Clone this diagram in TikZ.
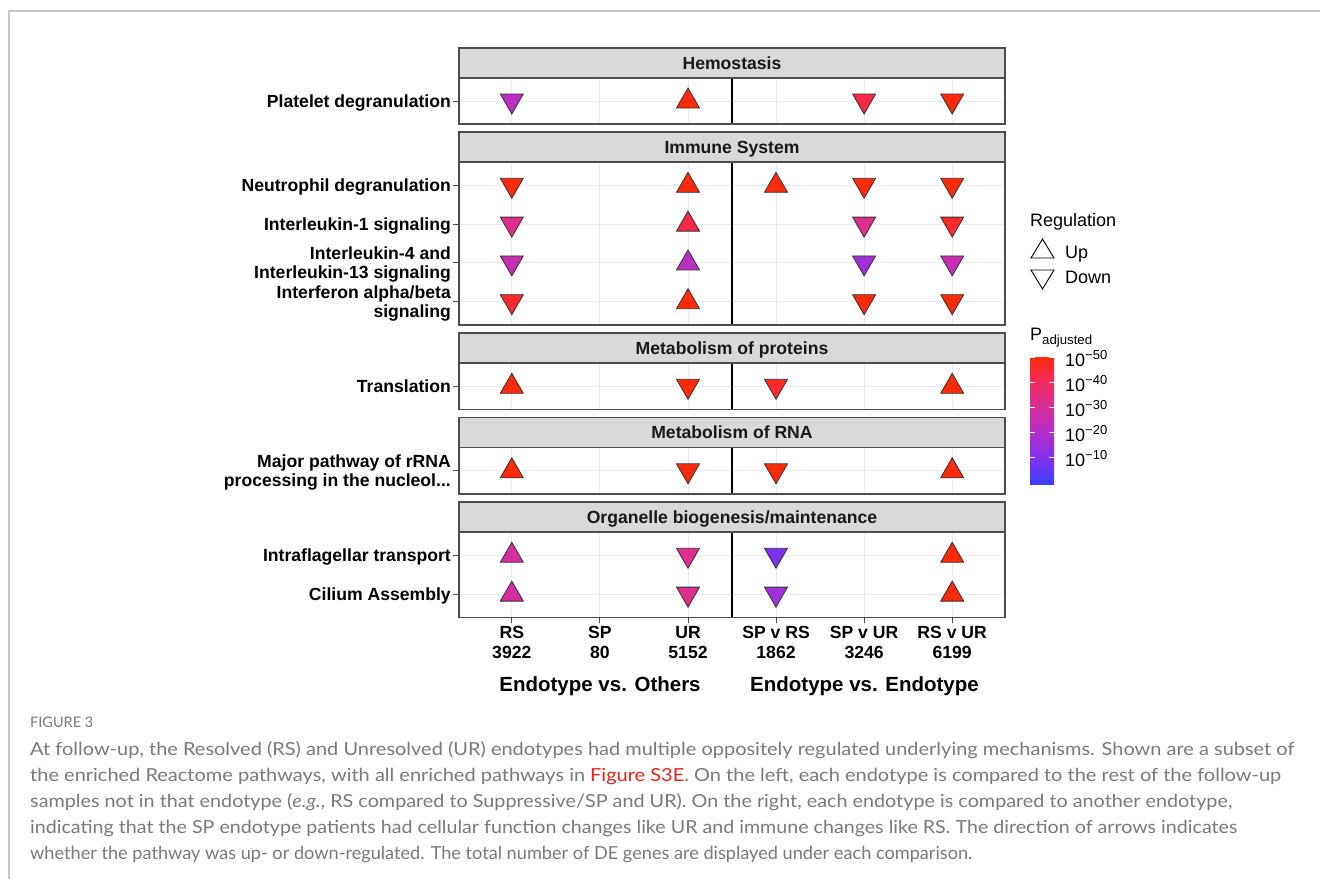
\documentclass[tikz,border=0pt]{standalone}
\usepackage{graphicx}
\usepackage{fontspec}
\setmainfont{Liberation Sans}
\newfontfamily\capfont{Lato}
\definecolor{gridc}{HTML}{EBEBEB}
\definecolor{framec}{HTML}{4D4D4D}
\definecolor{stripc}{HTML}{D9D9D9}
\definecolor{pagec}{HTML}{C8C8C8}
\definecolor{captc}{HTML}{7A7A7A}
\definecolor{figred}{HTML}{E3241B}
\definecolor{p0}{HTML}{3D3DFF}
\definecolor{p10}{HTML}{8030EE}
\definecolor{p20}{HTML}{B22FCA}
\definecolor{p30}{HTML}{D82E9C}
\definecolor{p40}{HTML}{F02B62}
\definecolor{p50}{HTML}{FF2A10}
\definecolor{tRed}{HTML}{FF2A0A}
\definecolor{tRedB}{HTML}{FF2A2C}
\definecolor{tCrim}{HTML}{F82A4C}
\definecolor{tMagA}{HTML}{E02E8E}
\definecolor{tMagB}{HTML}{D62EA0}
\definecolor{tMagC}{HTML}{C82EB2}
\definecolor{tPurp}{HTML}{BB2EC2}
\definecolor{tViol}{HTML}{A030DC}
\definecolor{tBlueV}{HTML}{7D30F0}
\pgfdeclareverticalshading{pbar}{100bp}{color(0bp)=(p0); color(25bp)=(p0); color(35bp)=(p10); color(45bp)=(p20); color(55bp)=(p30); color(65bp)=(p40); color(75bp)=(p50); color(100bp)=(p50)}
\tikzset{
  grid/.style={draw=gridc, line width=1pt},
  sepline/.style={draw=black, line width=1.1pt},
  frame/.style={draw=framec, line width=1.3pt},
  strip/.style={fill=stripc, draw=framec, line width=1.3pt},
  tri/.style={draw=black!80, line width=0.8pt},
  ytickmark/.style={draw=framec, line width=1pt},
  striptxt/.style={anchor=base, inner sep=0pt, text=black!90, font=\fontsize{17.6pt}{19.5pt}\selectfont\bfseries},
  ylab/.style={anchor=base east, inner sep=0pt, font=\fontsize{17.6pt}{19.5pt}\selectfont\bfseries},
  xlab/.style={anchor=base, inner sep=0pt, font=\fontsize{17.6pt}{19.5pt}\selectfont\bfseries},
  axtitle/.style={anchor=base, inner sep=0pt, font=\fontsize{20.5pt}{23pt}\selectfont\bfseries},
  legtxt/.style={anchor=base west, inner sep=0pt, font=\fontsize{18pt}{20pt}\selectfont},
  captxt/.style={anchor=base west, inner sep=0pt, text=captc, font=\capfont\fontsize{18pt}{21pt}\selectfont},
}
\def\cA{511.8}\def\cB{599.9}\def\cC{688}\def\cD{776}\def\cE{864.1}\def\cF{952.2}
\def\pL{459}\def\pR{1005}\def\sepx{732}
\newcommand{\panelbox}[6]{%
  \fill[white] (\pL,#2) rectangle (\pR,#3);
  \foreach \cc in {\cA,\cB,\cC,\cD,\cE,\cF} {\draw[grid] (\cc,#2) -- (\cc,#3);}
  \foreach \rr in {#6} {\draw[grid] (\pL,\rr) -- (\pR,\rr); \draw[ytickmark] (453,\rr) -- (\pL,\rr);}
  \draw[sepline] (\sepx,#2) -- (\sepx,#3);
  \draw[frame] (\pL,#2) rectangle (\pR,#3);
  \filldraw[strip] (\pL,#1) rectangle (\pR,#2);
  \node[striptxt] (#5) at ({(\pL+\pR)/2},{(#1+#2)/2+6.3}) {#4};
}
\newcommand{\tridn}[3]{\filldraw[tri, fill=#3] (#1-11.5,#2-7) -- (#1+11.5,#2-7) -- (#1,#2+13) -- cycle;}
\newcommand{\triup}[3]{\filldraw[tri, fill=#3] (#1-11.5,#2+7) -- (#1+11.5,#2+7) -- (#1,#2-13) -- cycle;}
\begin{document}
\begin{tikzpicture}[x=1pt,y=-1pt]
\useasboundingbox (0,0) rectangle (1320,879);
\fill[white] (0,0) rectangle (1320,879);
% page rules
\draw[draw=pagec, line width=1.2pt] (9,879) -- (9,11) -- (1320,11);

% rows
\def\rA{101}
\def\rB{185.3}\def\rC{224.1}\def\rD{262.9}\def\rE{301.7}
\def\rF{386.3}
\def\rG{470.8}
\def\rH{555.3}\def\rI{594.1}

\panelbox{48}{78}{124}{Hemostasis}{s1}{\rA}
\panelbox{132}{162}{325}{Immune System}{s2}{\rB,\rC,\rD,\rE}
\panelbox{333}{363}{409.5}{Metabolism of proteins}{s3}{\rF}
\panelbox{417.5}{447.5}{494}{Metabolism of RNA}{s4}{\rG}
\panelbox{502}{532}{617.4}{Organelle biogenesis/maintenance}{s5}{\rH,\rI}

% x ticks
\foreach \cc in {\cA,\cB,\cC,\cD,\cE,\cF} {\draw[ytickmark] (\cc,617.4) -- (\cc,623);}

% y labels
\node[ylab] (yl1) at (451,\rA+6.3) {Platelet degranulation};
\node[ylab] (yl2) at (451,\rB+6.3) {Neutrophil degranulation};
\node[ylab] (yl3) at (451,\rC+6.3) {Interleukin-1 signaling};
\node[ylab] (yl4a) at (451,\rD-3.2) {Interleukin-4 and};
\node[ylab] (yl4b) at (451,\rD+15.8) {Interleukin-13 signaling};
\node[ylab] (yl5a) at (451,\rE-3.2) {Interferon alpha/beta};
\node[ylab] (yl5b) at (451,\rE+15.8) {signaling};
\node[ylab] (yl6) at (451,\rF+6.3) {Translation};
\node[ylab] (yl7a) at (451,\rG-3.2) {Major pathway of rRNA};
\node[ylab] (yl7b) at (451,\rG+15.8) {processing in the nucleol...};
\node[ylab] (yl8) at (451,\rH+6.3) {Intraflagellar transport};
\node[ylab] (yl9) at (451,\rI+6.3) {Cilium Assembly};

% x labels
\node[xlab] (xa1) at (\cA,638.5) {RS};     \node[xlab] (xa2) at (\cA,658.5) {3922};
\node[xlab] (xb1) at (\cB,638.5) {SP};     \node[xlab] (xb2) at (\cB,658.5) {80};
\node[xlab] (xc1) at (\cC,638.5) {UR};     \node[xlab] (xc2) at (\cC,658.5) {5152};
\node[xlab] (xd1) at (\cD,638.5) {SP v RS}; \node[xlab] (xd2) at (\cD,658.5) {1862};
\node[xlab] (xe1) at (\cE,638.5) {SP v UR}; \node[xlab] (xe2) at (\cE,658.5) {3246};
\node[xlab] (xf1) at (\cF,638.5) {RS v UR}; \node[xlab] (xf2) at (\cF,658.5) {6199};
\node[axtitle] (t1) at (600,691.5) {Endotype vs. Others};
\node[axtitle] (t2) at (864.5,691.5) {Endotype vs. Endotype};

% triangles: Platelet
\tridn{\cA}{\rA}{tPurp}
\triup{\cC}{\rA}{tRed}
\tridn{\cE}{\rA}{tCrim}
\tridn{\cF}{\rA}{tRed}
% Neutrophil
\tridn{\cA}{\rB}{tRed}
\triup{\cC}{\rB}{tRed}
\triup{\cD}{\rB}{tRed}
\tridn{\cE}{\rB}{tRed}
\tridn{\cF}{\rB}{tRed}
% IL-1
\tridn{\cA}{\rC}{tMagA}
\triup{\cC}{\rC}{tCrim}
\tridn{\cE}{\rC}{tMagA}
\tridn{\cF}{\rC}{tRedB}
% IL-4/13
\tridn{\cA}{\rD}{tMagC}
\triup{\cC}{\rD}{tPurp}
\tridn{\cE}{\rD}{tViol}
\tridn{\cF}{\rD}{tMagC}
% IFN
\tridn{\cA}{\rE}{tRedB}
\triup{\cC}{\rE}{tRed}
\tridn{\cE}{\rE}{tRed}
\tridn{\cF}{\rE}{tRed}
% Translation
\triup{\cA}{\rF}{tRed}
\tridn{\cC}{\rF}{tRed}
\tridn{\cD}{\rF}{tRedB}
\triup{\cF}{\rF}{tRed}
% rRNA
\triup{\cA}{\rG}{tRed}
\tridn{\cC}{\rG}{tRed}
\tridn{\cD}{\rG}{tRed}
\triup{\cF}{\rG}{tRed}
% Intraflagellar
\triup{\cA}{\rH}{tMagB}
\tridn{\cC}{\rH}{tMagA}
\tridn{\cD}{\rH}{tBlueV}
\triup{\cF}{\rH}{tRed}
% Cilium
\triup{\cA}{\rI}{tMagB}
\tridn{\cC}{\rI}{tMagA}
\tridn{\cD}{\rI}{tViol}
\triup{\cF}{\rI}{tRed}

% legend: regulation
\node[legtxt] (lreg) at (1030,226.5) {Regulation};
\draw[black, line width=0.9pt] (1031,258) -- (1054,258) -- (1042.5,239) -- cycle;
\node[legtxt] (lup) at (1065,258.5) {Up};
\draw[black, line width=0.9pt] (1031,270) -- (1054,270) -- (1042.5,289) -- cycle;
\node[legtxt] (ldown) at (1065,283.5) {Down};

% legend: p adjusted
\node[legtxt] (lp) at (1030,340) {P\raisebox{-4.5pt}{\fontsize{13.2pt}{14pt}\selectfont adjusted}};
\shade[shading=pbar] (1030,357.5) rectangle (1054,484);
\foreach \ty/\tl in {357.5/50,382.6/40,407.7/30,432.8/20,457.9/10} {
  \draw[white, line width=0.9pt] (1030,\ty) -- (1035,\ty);
  \draw[white, line width=0.9pt] (1049,\ty) -- (1054,\ty);
  \node[anchor=base west, inner sep=0pt, font=\fontsize{18pt}{20pt}\selectfont] (lt\tl) at (1065,\ty+9) {10\raisebox{7.5pt}{\fontsize{13pt}{14pt}\selectfont −\tl}};
}

% caption
\node[anchor=base west, inner sep=0pt, text=captc, font=\capfont\fontsize{14.5pt}{16pt}\selectfont] (fig) at (30,727) {FIGURE 3};
\node[captxt] (c1) at (30,755) {\resizebox{1264pt}{\height}{At follow-up, the Resolved (RS) and Unresolved (UR) endotypes had multiple oppositely regulated underlying mechanisms. Shown are a subset of}};
\node[captxt] (c2) at (30,781) {\resizebox{1251pt}{\height}{the enriched Reactome pathways, with all enriched pathways in \textcolor{figred}{Figure S3E}. On the left, each endotype is compared to the rest of the follow-up}};
\node[captxt] (c3) at (30,807) {\resizebox{1202pt}{\height}{samples not in that endotype (\textit{e.g.}, RS compared to Suppressive/SP and UR). On the right, each endotype is compared to another endotype,}};
\node[captxt] (c4) at (30,833) {\resizebox{1207pt}{\height}{indicating that the SP endotype patients had cellular function changes like UR and immune changes like RS. The direction of arrows indicates}};
\node[captxt] (c5) at (30,859) {\resizebox{942pt}{\height}{whether the pathway was up- or down-regulated. The total number of DE genes are displayed under each comparison.}};
\end{tikzpicture}
\end{document}
